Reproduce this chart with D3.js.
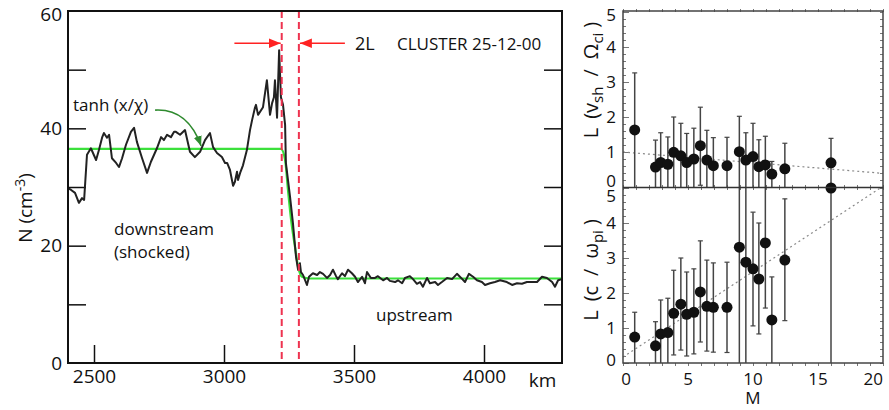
<!DOCTYPE html>
<html>
<head>
<meta charset="utf-8">
<script src="https://cdn.jsdelivr.net/npm/d3@7"></script>
<style>
  body { margin: 0; background: #fff; }
  text { font-family: "Open Sans", sans-serif; fill: #111; }
</style>
</head>
<body>
<svg id="chart" width="889" height="410"></svg>
<script>
// ---- left panel: density profile across the shock ----
const posKm = [2400, 2412, 2427, 2442, 2454, 2462, 2473, 2488, 2508, 2519, 2531, 2538, 2550, 2558, 2569, 2585, 2596, 2608, 2623, 2642, 2654, 2665, 2685, 2704, 2719, 2731, 2742, 2758, 2769, 2781, 2796, 2808, 2815, 2831, 2850, 2869, 2888, 2908, 2927, 2946, 2958, 2973, 2992, 3004, 3012, 3023, 3035, 3042, 3050, 3054, 3062, 3073, 3088, 3100, 3108, 3119, 3123, 3131, 3150, 3165, 3177, 3185, 3192, 3196, 3204, 3212, 3219, 3227, 3235, 3238, 3254, 3265, 3277, 3285, 3292, 3296, 3304, 3319, 3327, 3342, 3358, 3369, 3381, 3396, 3408, 3419, 3431, 3438, 3454, 3465, 3477, 3492, 3504, 3515, 3531, 3542, 3550, 3565, 3581, 3592, 3612, 3627, 3638, 3658, 3669, 3685, 3696, 3715, 3727, 3742, 3754, 3765, 3781, 3792, 3812, 3823, 3838, 3858, 3877, 3896, 3912, 3927, 3942, 3958, 3973, 3992, 4004, 4023, 4042, 4062, 4088, 4108, 4127, 4146, 4165, 4185, 4204, 4223, 4242, 4262, 4273, 4285, 4300];
const density = [29.8, 29.5, 29.0, 27.3, 28.1, 27.8, 35.5, 36.6, 34.6, 36.3, 38.4, 39.2, 38.4, 38.9, 34.9, 34.1, 33.4, 34.9, 37.2, 39.4, 40.1, 37.7, 34.9, 32.4, 34.3, 35.5, 36.6, 38.5, 38.0, 38.9, 38.5, 39.4, 39.4, 38.9, 39.7, 36.0, 35.1, 36.0, 38.0, 39.2, 36.8, 35.8, 35.1, 34.1, 34.1, 32.9, 30.2, 30.9, 32.6, 31.2, 32.4, 33.7, 36.3, 39.7, 41.4, 43.5, 44.0, 42.3, 43.6, 48.2, 42.3, 44.3, 45.3, 48.2, 41.8, 53.3, 45.3, 44.0, 40.6, 34.1, 28.3, 23.9, 18.1, 15.9, 17.0, 15.5, 15.0, 13.3, 14.7, 15.3, 15.0, 15.5, 15.2, 14.5, 15.0, 15.9, 14.8, 14.3, 15.3, 14.8, 15.9, 15.3, 14.7, 13.8, 14.7, 13.6, 15.5, 14.5, 14.5, 14.8, 14.1, 14.5, 14.0, 13.8, 14.1, 13.6, 14.5, 14.8, 14.3, 13.5, 13.8, 13.0, 14.5, 13.6, 13.8, 13.3, 13.8, 14.5, 14.3, 15.2, 14.5, 13.8, 15.2, 14.7, 14.1, 13.8, 13.3, 13.6, 13.8, 14.1, 13.8, 13.3, 13.6, 13.5, 13.8, 13.8, 13.8, 14.7, 14.5, 13.8, 13.0, 14.1, 14.3];

// green tanh fit
const fitKm = [2400, 3219, 3235, 3246, 3258, 3273, 3285, 3300, 3331, 4300];
const fitN  = [36.5, 36.5, 34.6, 29.5, 24.4, 19.8, 16.4, 14.7, 14.4, 14.4];

const shockEdges = [3222, 3288];
const kmTicks = [2500, 3000, 3500, 4000];
const nTicks = [10, 20, 30, 40, 50];
const nLabels = [0, 20, 40, 60];

// ---- right panels: shock thickness vs Mach number ----
const mach    = [0.9, 2.5, 2.9, 3.45, 3.9, 4.45, 4.9, 5.45, 5.95, 6.45, 6.95, 8.0, 8.95, 9.45, 10.0, 10.45, 10.95, 11.45, 12.45, 16.0];
const lCi     = [1.63, 0.57, 0.7, 0.65, 0.99, 0.89, 0.7, 0.8, 1.18, 0.77, 0.61, 0.61, 1.01, 0.77, 0.87, 0.58, 0.63, 0.37, 0.52, 0.69];
const lCiHi   = [3.26, 1.34, 1.55, 1.43, 2.0, 1.82, 1.53, 1.68, 2.28, 1.62, 1.41, 1.42, 2.02, 1.55, 1.82, 1.35, 1.45, 0.73, 1.25, 1.39];
const lCiLo   = [0, 0, 0, 0, 0, 0, 0, 0, 0.05, 0, 0, 0, 0, 0, 0, 0, 0, 0, 0, 0];
const lPi     = [0.74, 0.49, 0.83, 0.87, 1.42, 1.68, 1.39, 1.45, 2.03, 1.62, 1.59, 1.59, 3.31, 2.88, 2.69, 2.4, 3.43, 1.23, 2.94, 5.0];
const lPiHi   = [1.45, 1.18, 1.8, 1.85, 2.65, 3.0, 2.6, 2.69, 3.49, 2.94, 2.86, 2.88, 5, 5, 4.31, 4.0, 5, 2.46, 4.69, 5];
const lPiLo   = [0, 0, 0, 0, 0.23, 0.37, 0.2, 0.26, 0.6, 0.34, 0.31, 0.3, 0, 0, 1.06, 0.83, 1.57, 0, 1.21, 0];
const fitCiM = [0, 20], fitCiL = [1.0, 0.39];
const fitPiM = [0, 19.8], fitPiL = [0.17, 5.0];
const machTicks = [0, 5, 10, 15, 20];
const lTicks = [0, 1, 2, 3, 4, 5];

const svg = d3.select("#chart");

// ================= left panel =================
const x = d3.scaleLinear().domain([2400, 4300]).range([68, 562]);
const y = d3.scaleLinear().domain([0, 60]).range([363, 11]);

const defs = svg.append("defs");
function marker(id, color, size) {
  defs.append("marker").attr("id", id)
    .attr("viewBox", "0 0 10 10").attr("refX", 10).attr("refY", 5)
    .attr("markerWidth", size).attr("markerHeight", size)
    .attr("markerUnits", "userSpaceOnUse")
    .attr("orient", "auto")
    .append("path").attr("d", "M0,1 L10,5 L0,9 Z").attr("fill", color);
}
marker("redhead", "#f22", 12);
marker("greenhead", "#2e8a2e", 10);

// inward ticks
const gx = svg.append("g").attr("transform", "translate(0,363)")
  .call(d3.axisBottom(x).tickValues(kmTicks).tickSizeInner(-18).tickSizeOuter(0).tickPadding(6).tickFormat(d3.format("d")));
gx.selectAll("text").style("font-size", "19px");
svg.append("text").attr("x", x(4225)).attr("y", 387).attr("text-anchor", "middle")
  .style("font-size", "19px").text("km");

const gyl = svg.append("g").attr("transform", "translate(68,0)")
  .call(d3.axisLeft(y).tickValues(nTicks).tickSizeInner(-18).tickSizeOuter(0).tickFormat(""));
const gyll = svg.append("g").attr("transform", "translate(68,0)")
  .call(d3.axisLeft(y).tickValues(nLabels).tickSize(0).tickPadding(6).tickFormat(d3.format("d")));
gyll.selectAll("text").style("font-size", "19px")
  .attr("dy", d => d === 60 ? "0.5em" : "0.32em");
const gyr = svg.append("g").attr("transform", "translate(562,0)")
  .call(d3.axisRight(y).tickValues(nTicks).tickSizeInner(-18).tickSizeOuter(0).tickFormat(""));
[gx, gyl, gyll, gyr].forEach(g => {
  g.select(".domain").remove();
  g.selectAll("line").attr("stroke", "#111").attr("stroke-width", 1.5);
});

// tanh fit
svg.append("path")
  .datum(fitKm.map((k, i) => [k, fitN[i]]))
  .attr("fill", "none").attr("stroke", "#3be03b").attr("stroke-width", 2.2)
  .attr("d", d3.line().x(d => x(d[0])).y(d => y(d[1])).curve(d3.curveMonotoneX));

// measured density
svg.append("path")
  .datum(posKm.map((k, i) => [k, density[i]]))
  .attr("fill", "none").attr("stroke", "#222").attr("stroke-width", 2)
  .attr("stroke-linejoin", "round")
  .attr("d", d3.line().x(d => x(d[0])).y(d => y(d[1])));

// shock ramp edges
svg.selectAll(".edge").data(shockEdges).enter().append("line")
  .attr("x1", d => x(d)).attr("x2", d => x(d))
  .attr("y1", y(60)).attr("y2", y(0))
  .attr("stroke", "#ee3350").attr("stroke-width", 2).attr("stroke-dasharray", "7,4");

// 2L arrows
svg.append("line")
  .attr("x1", x(3040)).attr("x2", x(shockEdges[0]) - 1)
  .attr("y1", y(54.5)).attr("y2", y(54.5))
  .attr("stroke", "#f22").attr("stroke-width", 1.5).attr("marker-end", "url(#redhead)");
svg.append("line")
  .attr("x1", x(3465)).attr("x2", x(shockEdges[1]) + 1)
  .attr("y1", y(54.5)).attr("y2", y(54.5))
  .attr("stroke", "#f22").attr("stroke-width", 1.5).attr("marker-end", "url(#redhead)");
svg.append("text").attr("x", 355).attr("y", 50).style("font-size", "18px").text("2L");
svg.append("text").attr("x", 397).attr("y", 50).style("font-size", "17px").text("CLUSTER 25-12-00");

// tanh annotation
const ann = d3.path();
ann.moveTo(x(2735), y(43.1));
ann.quadraticCurveTo(x(2860), y(43.4), x(2912), y(37.0));
svg.append("path").attr("d", ann.toString())
  .attr("fill", "none").attr("stroke", "#2e8a2e").attr("stroke-width", 1.6)
  .attr("marker-end", "url(#greenhead)");
svg.append("text").attr("x", 73).attr("y", 111).style("font-size", "17px").text("tanh (x/\u03C7)");

svg.append("text").attr("x", 114).attr("y", 235).style("font-size", "17px").text("downstream");
svg.append("text").attr("x", 114).attr("y", 258).style("font-size", "17px").text("(shocked)");
svg.append("text").attr("x", 376).attr("y", 321).style("font-size", "17px").text("upstream");

const nLab = svg.append("text")
  .attr("transform", "translate(32,208) rotate(-90)")
  .attr("text-anchor", "middle").style("font-size", "19px");
nLab.append("tspan").text("N (cm");
nLab.append("tspan").attr("dy", -7).style("font-size", "14px").text("-3");
nLab.append("tspan").attr("dy", 7).text(")");

svg.append("rect").attr("x", 68).attr("y", 11).attr("width", 494).attr("height", 352)
  .attr("fill", "none").attr("stroke", "#111").attr("stroke-width", 2);

// ================= right panels =================
const xr = d3.scaleLinear().domain([0, 20]).range([623, 883]);
const yTop = d3.scaleLinear().domain([0, 5]).range([187, 12]);
const yBot = d3.scaleLinear().domain([0, 5]).range([363, 188]);

function minorAxes(yS, top, bottom) {
  const ax = [];
  ax.push(svg.append("g").attr("transform", `translate(623,0)`)
    .call(d3.axisLeft(yS).tickValues(d3.range(0, 5.01, 0.2)).tickSize(-3).tickFormat("")));
  ax.push(svg.append("g").attr("transform", `translate(883,0)`)
    .call(d3.axisRight(yS).tickValues(d3.range(0, 5.01, 0.2)).tickSize(-3).tickFormat("")));
  ax.push(svg.append("g").attr("transform", `translate(623,0)`)
    .call(d3.axisLeft(yS).tickValues(lTicks).tickSize(-6).tickFormat("")));
  ax.push(svg.append("g").attr("transform", `translate(0,${top})`)
    .call(d3.axisBottom(xr).tickValues(d3.range(0, 21, 1)).tickSize(-3).tickFormat("")));
  ax.push(svg.append("g").attr("transform", `translate(0,${bottom})`)
    .call(d3.axisTop(xr).tickValues(d3.range(0, 21, 1)).tickSize(-3).tickFormat("")));
  ax.forEach(g => {
    g.select(".domain").remove();
    g.selectAll("line").attr("stroke", "#777").attr("stroke-width", 1);
  });
}
minorAxes(yTop, 12, 187);
minorAxes(yBot, 188, 363);

// y labels
const nudgeTop = {0: -6, 5: 3};
const nudgeBot = {0: -3, 5: 8};
function yLabels(yS, nudge) {
  svg.append("g").selectAll("text").data(lTicks).enter().append("text")
    .attr("x", 616).attr("y", d => yS(d) + (nudge[d] || 0))
    .attr("dy", "0.35em").attr("text-anchor", "end")
    .style("font-size", "17px").text(d => d);
}
yLabels(yTop, nudgeTop);
yLabels(yBot, nudgeBot);

// x labels
svg.append("g").selectAll("text").data(machTicks).enter().append("text")
  .attr("x", d => xr(d) + (d === 0 ? 3 : 0)).attr("y", 385)
  .attr("text-anchor", d => d === 20 ? "end" : "middle")
  .style("font-size", "17px").text(d => d);
svg.append("text").attr("x", xr(10)).attr("y", 404).attr("text-anchor", "middle")
  .style("font-size", "17px").text("M");

// fit lines
function fitLine(ms, ls, yS) {
  svg.append("line")
    .attr("x1", xr(ms[0])).attr("y1", yS(ls[0]))
    .attr("x2", xr(ms[1])).attr("y2", yS(ls[1]))
    .attr("stroke", "#888").attr("stroke-width", 1.2).attr("stroke-dasharray", "2,3");
}
fitLine(fitCiM, fitCiL, yTop);
fitLine(fitPiM, fitPiL, yBot);

function errorPoints(vals, hi, lo, yS) {
  const g = svg.append("g");
  mach.forEach((m, i) => {
    const cx = xr(m);
    g.append("line").attr("x1", cx).attr("x2", cx)
      .attr("y1", yS(hi[i])).attr("y2", yS(lo[i]))
      .attr("stroke", "#444").attr("stroke-width", 1.5);
    if (hi[i] < 5) g.append("line").attr("x1", cx - 2.5).attr("x2", cx + 2.5)
      .attr("y1", yS(hi[i])).attr("y2", yS(hi[i])).attr("stroke", "#444").attr("stroke-width", 1.2);
    if (lo[i] > 0) g.append("line").attr("x1", cx - 2.5).attr("x2", cx + 2.5)
      .attr("y1", yS(lo[i])).attr("y2", yS(lo[i])).attr("stroke", "#444").attr("stroke-width", 1.2);
  });
  g.selectAll("circle").data(vals).enter().append("circle")
    .attr("cx", (d, i) => xr(mach[i])).attr("cy", d => yS(d))
    .attr("r", 5.5).attr("fill", "#111");
}
errorPoints(lCi, lCiHi, lCiLo, yTop);
errorPoints(lPi, lPiHi, lPiLo, yBot);

// frames
svg.append("rect").attr("x", 623).attr("y", 11).attr("width", 260).attr("height", 352)
  .attr("fill", "none").attr("stroke", "#444").attr("stroke-width", 1.5);
svg.append("line").attr("x1", 623).attr("x2", 883).attr("y1", 187.5).attr("y2", 187.5)
  .attr("stroke", "#333").attr("stroke-width", 1.5);

// rotated L labels with subscripts, gaps widened like the original
function lLabel(cy, parts) {
  const t = svg.append("text").attr("transform", `translate(598,${cy}) rotate(-90)`)
    .attr("text-anchor", "middle").style("font-size", "20px");
  parts.forEach(p => {
    const s = t.append("tspan").text(p.t);
    if (p.dx) s.attr("dx", p.dx);
    if (p.sub) s.attr("dy", 5).style("font-size", "15px");
    if (p.back) s.attr("dy", -5);
  });
}
lLabel(80, [
  {t: "L"}, {t: "(v", dx: 9}, {t: "sh", sub: true},
  {t: "/", dx: 10, back: true}, {t: "\u03A9", dx: 10}, {t: "ci", sub: true},
  {t: ")", dx: 5, back: true}
]);
lLabel(270, [
  {t: "L"}, {t: "(c", dx: 9}, {t: "/", dx: 10}, {t: "\u03C9", dx: 10},
  {t: "pi", sub: true}, {t: ")", dx: 5, back: true}
]);
</script>
</body>
</html>
